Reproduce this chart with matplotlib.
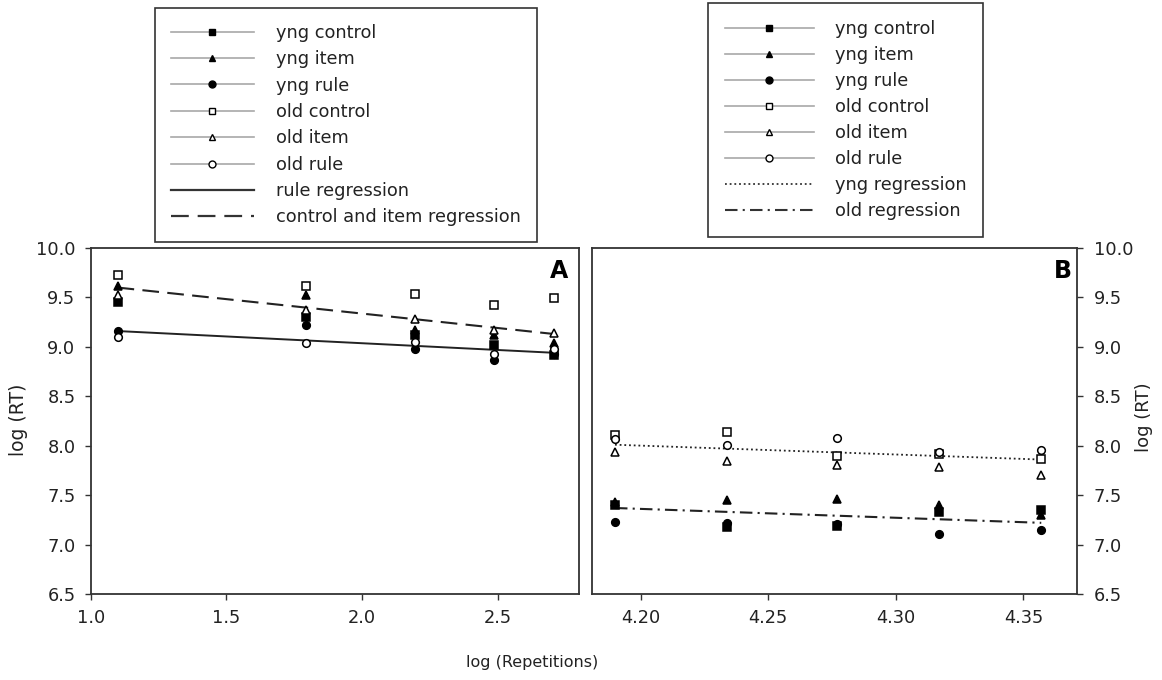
import matplotlib
matplotlib.use('Agg')
import matplotlib.pyplot as plt
from matplotlib.lines import Line2D
from matplotlib.ticker import FormatStrFormatter

plt.rcParams['font.family'] = ['DejaVu Sans']

# ---------------- data ----------------
reps_a = [1.099, 1.792, 2.197, 2.485, 2.708]
a_yng_control = [9.45, 9.30, 9.12, 9.02, 8.92]
a_yng_item = [9.62, 9.52, 9.17, 9.12, 9.04]
a_yng_rule = [9.16, 9.22, 8.98, 8.87, 8.93]
a_old_control = [9.73, 9.62, 9.53, 9.42, 9.49]
a_old_item = [9.52, 9.37, 9.28, 9.17, 9.14]
a_old_rule = [9.10, 9.04, 9.05, 8.93, 8.98]
a_reg_x = [1.099, 2.708]
a_rule_reg = [9.16, 8.94]
a_ci_reg = [9.60, 9.13]

reps_b = [4.190, 4.234, 4.277, 4.317, 4.357]
b_yng_control = [7.40, 7.18, 7.19, 7.33, 7.35]
b_yng_item = [7.43, 7.45, 7.46, 7.40, 7.30]
b_yng_rule = [7.23, 7.22, 7.21, 7.11, 7.15]
b_old_control = [8.11, 8.14, 7.90, 7.92, 7.87]
b_old_item = [7.94, 7.85, 7.80, 7.78, 7.70]
b_old_rule = [8.07, 8.01, 8.08, 7.94, 7.96]
b_reg_x = [4.190, 4.357]
b_yng_reg = [8.01, 7.86]
b_old_reg = [7.37, 7.22]

series_labels = ['yng control', 'yng item', 'yng rule',
                 'old control', 'old item', 'old rule']
yticks = [6.5, 7.0, 7.5, 8.0, 8.5, 9.0, 9.5, 10.0]
xticks_a = [1.0, 1.5, 2.0, 2.5]
xticks_b = [4.20, 4.25, 4.30, 4.35]

# ---------------- styles ----------------
FS = 12.8
TXT = '#222222'
marker_styles = [
    dict(marker='s', mfc='black', mec='black'),
    dict(marker='^', mfc='black', mec='black'),
    dict(marker='o', mfc='black', mec='black'),
    dict(marker='s', mfc='white', mec='black'),
    dict(marker='^', mfc='white', mec='black'),
    dict(marker='o', mfc='white', mec='black'),
]
DASH = (0, (8, 4))
DASHDOT = (0, (6, 2.5, 1, 2.5))
DOT = (0, (1, 1.6))

fig = plt.figure(figsize=(11.62, 6.8), dpi=100)
W, H = 1162, 680
axA = fig.add_axes([90.7 / W, 1 - 594 / H, (579 - 90.7) / W, (594 - 248) / H])
axB = fig.add_axes([592 / W, 1 - 594 / H, (1077 - 592) / W, (594 - 248) / H])


def style_axis(ax):
    for s in ax.spines.values():
        s.set_linewidth(1.3)
        s.set_color('#333333')
    ax.tick_params(direction='out', length=4, width=1, colors='#333333',
                   labelcolor=TXT, labelsize=FS, pad=7)
    ax.set_ylim(6.5, 10.0)
    ax.set_yticks(yticks)
    ax.yaxis.set_major_formatter(FormatStrFormatter('%.1f'))


# Panel A
a_series = [a_yng_control, a_yng_item, a_yng_rule, a_old_control, a_old_item, a_old_rule]
for vals, st in zip(a_series, marker_styles):
    axA.plot(reps_a, vals, linestyle='none', markersize=5.5, mew=1.1, zorder=3, **st)
axA.plot(a_reg_x, a_rule_reg, color='#222222', lw=1.4, zorder=2)
axA.plot(a_reg_x, a_ci_reg, color='#222222', lw=1.5, linestyle=DASH, zorder=2)
axA.set_xlim(1.0, 2.8)
axA.set_xticks(xticks_a)
axA.xaxis.set_major_formatter(FormatStrFormatter('%.1f'))
style_axis(axA)
axA.text(0.977, 0.934, 'A', transform=axA.transAxes, ha='right', va='center',
         fontsize=17, fontweight='bold', color='black')

# Panel B
b_series = [b_yng_control, b_yng_item, b_yng_rule, b_old_control, b_old_item, b_old_rule]
for vals, st in zip(b_series, marker_styles):
    axB.plot(reps_b, vals, linestyle='none', markersize=5.5, mew=1.1, zorder=3, **st)
axB.plot(b_reg_x, b_yng_reg, color='#222222', lw=1.3, linestyle=DOT, zorder=2)
axB.plot(b_reg_x, b_old_reg, color='#222222', lw=1.5, linestyle=DASHDOT, zorder=2)
axB.set_xlim(4.181, 4.371)
axB.set_xticks(xticks_b)
axB.xaxis.set_major_formatter(FormatStrFormatter('%.2f'))
style_axis(axB)
axB.yaxis.tick_right()
axB.tick_params(axis='y', pad=8)
axB.text(0.99, 0.934, 'B', transform=axB.transAxes, ha='right', va='center',
         fontsize=17, fontweight='bold', color='black')

# Axis labels
fig.text(19 / W, 1 - 420 / H, 'log (RT)', rotation=90, ha='center', va='center',
         fontsize=13.5, color=TXT)
fig.text(1144 / W, 1 - 417 / H, 'log (RT)', rotation=90, ha='center', va='center',
         fontsize=13, color=TXT)
fig.text(532 / W, 1 - 662 / H, 'log (Repetitions)', ha='center', va='center',
         fontsize=11.5, color=TXT)


# Legends
def marker_handles():
    hs = []
    for st in marker_styles:
        hs.append(Line2D([], [], color='#a8a8a8', lw=1.2, markersize=5, mew=1, **st))
    return hs


hA = marker_handles() + [
    Line2D([], [], color='#333333', lw=1.6),
    Line2D([], [], color='#333333', lw=1.6, linestyle=DASH),
]
labA = series_labels + ['rule regression', 'control and item regression']
legA = fig.legend(hA, labA, loc='upper left', bbox_to_anchor=(155 / W, 1 - 8 / H),
                  bbox_transform=fig.transFigure, frameon=True, fancybox=False,
                  edgecolor='#333333', framealpha=1, borderaxespad=0, borderpad=0.9,
                  handlelength=4.66, handletextpad=1.24, labelspacing=0.47,
                  fontsize=FS, labelcolor=TXT)
legA.get_frame().set_linewidth(1.2)

hB = marker_handles() + [
    Line2D([], [], color='#333333', lw=1.3, linestyle=DOT),
    Line2D([], [], color='#333333', lw=1.5, linestyle=DASHDOT),
]
labB = series_labels + ['yng regression', 'old regression']
legB = fig.legend(hB, labB, loc='upper left', bbox_to_anchor=(708 / W, 1 - 3 / H),
                  bbox_transform=fig.transFigure, frameon=True, fancybox=False,
                  edgecolor='#333333', framealpha=1, borderaxespad=0, borderpad=0.95,
                  handlelength=5.0, handletextpad=1.18, labelspacing=0.45,
                  fontsize=FS, labelcolor=TXT)
legB.get_frame().set_linewidth(1.2)

fig.savefig('out.png', dpi=100)
